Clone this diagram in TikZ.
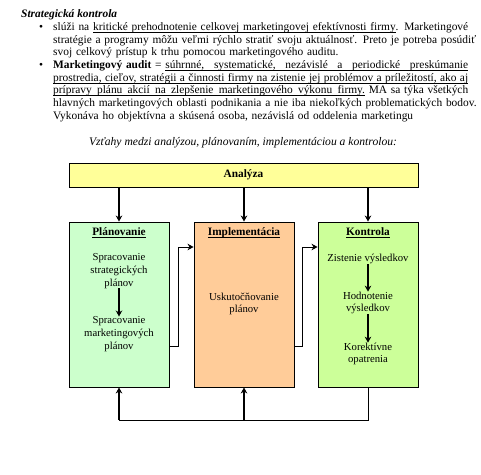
\documentclass[tikz,border=0pt]{standalone}
\usepackage{fontspec}
\setmainfont{Liberation Serif}
\usetikzlibrary{arrows.meta,positioning}

\definecolor{analfill}{HTML}{FFFF99}
\definecolor{planfill}{HTML}{CCFFCC}
\definecolor{implfill}{HTML}{FFCC99}
\definecolor{kontfill}{HTML}{CCFF99}

% underline that keeps the spaces stretchable
\makeatletter
\def\uln#1{\uln@a#1 \@nil}
\def\uln@a#1 #2\@nil{\uln@w{#1}\ifx\relax#2\relax\else\uln@sp\uln@a#2\@nil\fi}
\def\uln@w#1{\setbox0\hbox{#1}\rlap{\rule[-1.9bp]{\wd0}{0.5bp}}\box0\relax}
\def\uln@sp{\leaders\hrule height -1.4bp depth 1.9bp\hskip\fontdimen2\font plus \fontdimen3\font minus \fontdimen4\font\relax}
\makeatother

% one justified line of the text block
\newcommand\fline[1]{\hbox to 415bp{#1}}
\newcommand\parafont{\fontsize{11.4bp}{12.7bp}\selectfont}
\newcommand\boxfont{\fontsize{10.7bp}{12.6bp}\selectfont}

\tikzset{
  stage/.style={draw, line width=0.9bp, minimum width=100bp, minimum height=165bp, inner sep=0pt},
  boxtitle/.style={font=\fontsize{11.3bp}{13bp}\selectfont\bfseries, anchor=base, inner sep=0pt},
  boxtext/.style={align=center, inner sep=0pt, font=\boxfont},
  bigarrow/.style={line width=1.8bp, -{Stealth[length=6bp,width=6.5bp]}},
  thinarrow/.style={line width=0.9bp, -{Stealth[length=6bp,width=6.5bp]}},
  para/.style={anchor=base west, text width=415bp, inner sep=0pt, font=\parafont},
}

\begin{document}
\begin{tikzpicture}[x=1bp,y=1bp,yscale=-1]
	\path[fill=white] (0,0) rectangle (481,475);
	% text above the diagram
	\node (head) [anchor=base west, inner sep=0pt, font=\fontsize{11.4bp}{13bp}\selectfont] at (21,17.5) {\textbf{\textit{Strategická kontrola}}};
	\node (bul1) [anchor=base, inner sep=0pt, font=\parafont] at (41,30.5) {\textbullet};
	\node (par1) [para] at (53,30.5) {%
	\fline{slúži na \uln{kritické prehodnotenie celkovej marketingovej efektívnosti firmy}. Marketingové}
	\fline{stratégie a programy môžu veľmi rýchlo stratiť svoju aktuálnosť. Preto je potreba posúdiť}
	\hbox{svoj celkový prístup k trhu pomocou marketingového auditu.}};
	\node (bul2) [anchor=base, inner sep=0pt, font=\parafont] at (41,68.6) {\textbullet};
	\node (par2) [para] at (53,68.6) {%
	\fline{\textbf{Marketingový audit} = \uln{súhrnné, systematické, nezávislé a periodické preskúmanie}}
	\fline{\uln{prostredia, cieľov, stratégii a činnosti firmy na zistenie jej problémov a príležitostí, ako aj}}
	\fline{\uln{prípravy plánu akcií na zlepšenie marketingového výkonu firmy.} MA sa týka všetkých}
	\fline{hlavných marketingových oblasti podnikania a nie iba niekoľkých problematických bodov.}
	\hbox{Vykonáva ho objektívna a skúsená osoba, nezávislá od oddelenia marketingu}};
	\node (capt) [font=\fontsize{11.6bp}{13bp}\selectfont] at (243,143) {\itshape Vzťahy medzi analýzou, plánovaním, implementáciou a kontrolou:};

	% boxes
	\node[stage, minimum width=349bp, minimum height=24bp, fill=analfill, font=\fontsize{11.3bp}{13bp}\selectfont] (anal) at (243.5,175) {\textbf{Analýza}};
	\node[stage, fill=planfill] (plan) at (119,304.5) {};
	\node[stage, fill=implfill] (impl) at (244,304.5) {};
	\node[stage, fill=kontfill] (kont) at (368,304.5) {};

	\node[boxtitle] (plantit) at (119,235.5) {\uln{Plánovanie}};
	\node[boxtitle] (impltit) at (244,235.5) {\uln{Implementácia}};
	\node[boxtitle] (konttit) at (368,235.5) {\uln{Kontrola}};

	\node[boxtext] (sst) at (119,271) {Spracovanie\\strategických\\plánov};
	\node[boxtext] (smp) at (119,334) {Spracovanie\\marketingových\\plánov};
	\node[boxtext] (usk) at (244,304) {Uskutočňovanie\\plánov};
	\node[boxtext] (zis) at (368,259) {Zistenie výsledkov};
	\node[boxtext] (hod) at (368,303) {Hodnotenie\\výsledkov};
	\node[boxtext] (kor) at (368,354) {Korektívne\\opatrenia};

	% arrows
	\foreach \n in {plan,impl,kont}
		\draw[bigarrow] (anal.south -| \n) -- (\n.north);
	\draw[bigarrow] (sst) -- (smp);
	\draw[bigarrow] (zis) -- (hod);
	\draw[bigarrow] (hod) -- (kor);

	\coordinate (lo) at (0,346);
	\coordinate (hi) at (0,247);
	\coordinate (fb) at (0,420);
	\draw[thinarrow] (plan.east |- lo) -- ++(9,0) |- (impl.west |- hi);
	\draw[thinarrow] (impl.east |- lo) -- ++(8,0) |- (kont.west |- hi);

	\draw[line width=0.9bp] (kont.south) -- (kont.south |- fb) -- (plan.south |- fb);
	\draw[bigarrow] (plan.south |- fb) -- (plan.south);
	\draw[bigarrow] (impl.south |- fb) -- (impl.south);
\end{tikzpicture}
\end{document}
